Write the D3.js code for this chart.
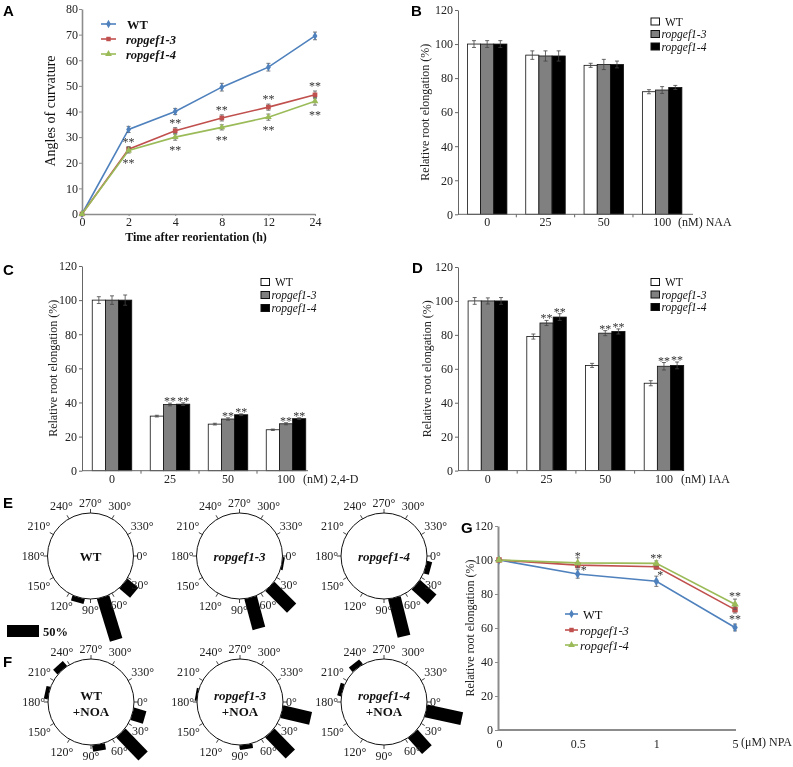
<!DOCTYPE html>
<html><head><meta charset="utf-8">
<script src="https://cdn.jsdelivr.net/npm/d3@7"></script>
<style>body{margin:0;background:#fff} svg{display:block} svg text{filter:grayscale(1)}</style>
</head><body>
<svg id="c" width="793" height="767"></svg>
<script>
const SERIF = "'Liberation Serif','Times New Roman',serif";
const SANS = "'Liberation Sans',Arial,sans-serif";

// ---------- DATA ----------
// Panel A
const timeLabels = ["0","2","4","8","12","24"];
const curvWT = [0,33,40,49.5,57.3,69.5];
const curvR3 = [0,25.3,32.5,37.5,41.7,46.5];
const curvR4 = [0,24.8,30,33.8,37.8,44];
const curvErrWT = [0.4,1.2,1.2,1.5,1.5,1.5];
const curvErrR3 = [0.4,1,1.2,1.2,1.2,1.5];
const curvErrR4 = [0.4,1,1.2,1,1.2,1.5];
const curvTicks = [0,10,20,30,40,50,60,70,80];
const seriesNames = ["WT","ropgef1-3","ropgef1-4"];

// Panel B (NAA)
const doseLabels = ["0","25","50","100"];
const naaWT = [100,93.5,87.5,72];
const naaR3 = [100,93,88,73];
const naaR4 = [100,93,88,74.5];
const naaErrWT = [2,2.5,1.2,1.2];
const naaErrR3 = [2,3,3,2];
const naaErrR4 = [2,3,2,1.2];

// Panel C (2,4-D)
const dWT = [100,32,27.3,24];
const dR3 = [100,38.8,30.3,27.5];
const dR4 = [100,39,32.8,30.5];
const dErrWT = [2,0.5,0.5,0.4];
const dErrR3 = [2.5,0.8,0.7,0.6];
const dErrR4 = [3,0.8,0.5,0.5];

// Panel D (IAA)
const iaaWT = [100,79,62,51.5];
const iaaR3 = [100,87,81,61.5];
const iaaR4 = [100,90.5,82,62];
const iaaErrWT = [2,1.5,1.2,1.5];
const iaaErrR3 = [1.8,1.5,1.5,2.2];
const iaaErrR4 = [2,2,1.5,2];

const barTicks = [0,20,40,60,80,100,120];

// Panel G (NPA)
const npaLabels = ["0","0.5","1","5"];
const npaWT = [100,91.8,87.5,60.3];
const npaR3 = [100,97,96,70.8];
const npaR4 = [100,98.3,98,74];
const npaErrWT = [0.8,2.5,3,2];
const npaErrR3 = [0.8,1.5,1.5,2];
const npaErrR4 = [0.8,3,1.5,3];

// Panels E/F: rose histograms {deg, pct}
const roseE_WT = [{deg:40,pct:22},{deg:73,pct:70},{deg:106,pct:8}];
const roseE_R3 = [{deg:10,pct:3},{deg:45,pct:48},{deg:75,pct:50}];
const roseE_R4 = [{deg:15,pct:8},{deg:42,pct:34},{deg:76,pct:62}];
const roseF_WT = [{deg:228,pct:10},{deg:192,pct:6},{deg:16,pct:20},{deg:46,pct:50},{deg:80,pct:10}];
const roseF_R3 = [{deg:190,pct:3},{deg:13,pct:46},{deg:46,pct:46},{deg:82,pct:7}];
const roseF_R4 = [{deg:232,pct:9},{deg:196,pct:6},{deg:12,pct:57},{deg:48,pct:33}];
const roseTickDeg = [0,30,60,90,120,150,180,210,240,270,300,330];

// ---------- DRAW ----------
const svg = d3.select("#c");
const COL = {WT:"#4f81bd", R3:"#c0504d", R4:"#9bbb59"};

function styleAxis(sel, color, width, fs){
  sel.select(".domain").attr("stroke",color).attr("stroke-width",width);
  sel.selectAll(".tick line").attr("stroke",color).attr("stroke-width",1);
  sel.selectAll(".tick text").attr("font-family",SERIF).attr("font-size",fs).attr("fill","#222");
}
function text(g,x,y,s,o={}){
  const t = g.append("text").attr("x",x).attr("y",y).text(s)
    .attr("font-family",o.ff||SERIF).attr("font-size",o.fs||12).attr("fill",o.fill||"#111")
    .attr("text-anchor",o.anchor||"start");
  if(o.bold) t.attr("font-weight","bold");
  if(o.italic) t.attr("font-style","italic");
  if(o.rotate) t.attr("transform",`rotate(${o.rotate},${x},${y})`);
  return t;
}
function errBar(g,x,y0,y1,cap,color){
  g.append("line").attr("x1",x).attr("x2",x).attr("y1",y0).attr("y2",y1).attr("stroke",color).attr("stroke-width",0.8);
  g.append("line").attr("x1",x-cap).attr("x2",x+cap).attr("y1",y0).attr("y2",y0).attr("stroke",color).attr("stroke-width",0.8);
  g.append("line").attr("x1",x-cap).attr("x2",x+cap).attr("y1",y1).attr("y2",y1).attr("stroke",color).attr("stroke-width",0.8);
}
const symType = [d3.symbolDiamond, d3.symbolSquare, d3.symbolTriangle];

// panel labels
[["A",3,16],["B",411,16],["C",3,275],["D",412,273],["E",3,508],["F",3,667],["G",461,533]].forEach(([s,x,y])=>
  text(svg,x,y,s,{ff:SANS,fs:15,bold:true,fill:"#000"}));

// ---------- Panel A ----------
(function(){
  const g = svg.append("g");
  const x = d3.scalePoint().domain(timeLabels).range([82,315]);
  const y = d3.scaleLinear().domain([0,80]).range([214,9]);
  g.append("g").attr("transform","translate(82,0)")
    .call(d3.axisLeft(y).tickValues(curvTicks).tickSize(3).tickSizeOuter(0).tickPadding(1))
    .call(styleAxis,"#8c8c8c",1.6,12);
  g.append("g").attr("transform","translate(0,214)")
    .call(d3.axisBottom(x).tickSize(2).tickSizeOuter(0).tickPadding(1))
    .call(styleAxis,"#8c8c8c",1.6,12);
  text(g,196,241,"Time after reorientation (h)",{fs:12,bold:true,anchor:"middle"});
  text(g,55,111,"Angles of curvature",{fs:14,anchor:"middle",rotate:-90});
  const data = [[curvWT,curvErrWT,COL.WT],[curvR3,curvErrR3,COL.R3],[curvR4,curvErrR4,COL.R4]];
  const line = d3.line().x((d,i)=>x(timeLabels[i])).y(d=>y(d));
  data.forEach(([vals,errs,c],k)=>{
    g.append("path").attr("d",line(vals)).attr("fill","none").attr("stroke",c).attr("stroke-width",1.6);
    vals.forEach((v,i)=>{
      errBar(g,x(timeLabels[i]),y(v-errs[i]),y(v+errs[i]),2,"#555");
      g.append("path").attr("d",d3.symbol(symType[k], k===1?22:20)())
        .attr("transform",`translate(${x(timeLabels[i])},${y(v)})`).attr("fill",c);
    });
  });
  // significance
  timeLabels.forEach((t,i)=>{
    if(i===0) return;
    text(g,x(t),y(curvR3[i]+curvErrR3[i])-1,"**",{fs:12,anchor:"middle",fill:"#333"});
    text(g,x(t),y(curvR4[i]-curvErrR4[i])+14,"**",{fs:12,anchor:"middle",fill:"#333"});
  });
  // legend
  const ly = [24,39,54];
  data.forEach(([v,e,c],k)=>{
    g.append("line").attr("x1",101).attr("x2",116).attr("y1",ly[k]).attr("y2",ly[k]).attr("stroke",c).attr("stroke-width",1.6);
    g.append("path").attr("d",d3.symbol(symType[k],20)()).attr("transform",`translate(108.5,${ly[k]})`).attr("fill",c);
    text(g,k===0?127:126,ly[k]+4.5,seriesNames[k],{fs:12.5,bold:true,italic:k>0});
  });
})();

// ---------- Bar panels ----------
function barPanel(cfg){
  const g = svg.append("g");
  const y = d3.scaleLinear().domain([0,120]).range([cfg.yBot,cfg.yTop]);
  const x0 = d3.scaleBand().domain(doseLabels).range([cfg.bandStart,cfg.bandEnd]);
  const x1 = d3.scaleBand().domain([0,1,2]).range([0,39.5]);
  const off = (x0.bandwidth()-39.5)/2;
  const fills = ["#ffffff","#808080","#000000"];
  cfg.series.forEach((vals,k)=>{
    vals.forEach((v,i)=>{
      const bx = x0(doseLabels[i])+off+x1(k);
      g.append("rect").attr("x",bx).attr("y",y(v)).attr("width",x1.bandwidth()).attr("height",y(0)-y(v))
        .attr("fill",fills[k]).attr("stroke","#111").attr("stroke-width",0.8);
      const cx = bx+x1.bandwidth()/2, e = cfg.errs[k][i];
      errBar(g,cx,y(v-e),y(v+e),2,"#444");
      if(cfg.stars && k>0 && i>0){
        text(g,cx,y(v+e)+2,"**",{fs:12,anchor:"middle",fill:"#333"});
      }
    });
  });
  // axes
  g.append("g").attr("transform",`translate(${cfg.axisX},0)`)
    .call(d3.axisLeft(y).tickValues(barTicks).tickSize(3).tickSizeOuter(0).tickPadding(2))
    .call(styleAxis,"#666",1,12);
  g.append("line").attr("x1",cfg.axisX).attr("x2",cfg.axisEnd).attr("y1",y(0)).attr("y2",y(0)).attr("stroke","#666").attr("stroke-width",1);
  doseLabels.forEach((d,i)=>{
    const xb = x0(d);
    if(i>0) g.append("line").attr("x1",xb).attr("x2",xb).attr("y1",y(0)).attr("y2",y(0)+3).attr("stroke","#666");
    text(g,xb+x0.bandwidth()/2,y(0)+12,d,{fs:12,anchor:"middle",fill:"#222"});
  });
  text(g,cfg.unitX,y(0)+12,cfg.unit,{fs:12,fill:"#222"});
  text(g,cfg.ylabX,(cfg.yBot+cfg.yTop)/2,"Relative root elongation (%)",{fs:12,anchor:"middle",rotate:-90,fill:"#222"});
  // legend
  cfg.legY.forEach((ly,k)=>{
    g.append("rect").attr("x",cfg.legX).attr("y",ly-3.5).attr("width",8.5).attr("height",7)
      .attr("fill",fills[k]).attr("stroke","#111").attr("stroke-width",1);
    text(g,k===0?cfg.legX+14:cfg.legX+10.5,ly+4,seriesNames[k],{fs:11.5,italic:k>0,fill:"#111"});
  });
}
barPanel({series:[naaWT,naaR3,naaR4],errs:[naaErrWT,naaErrR3,naaErrR4],yTop:10,yBot:214.3,
  axisX:458,axisEnd:693,bandStart:458,bandEnd:691.3,unit:"(nM) NAA",unitX:678,ylabX:429,
  legX:651,legY:[21.5,34,46.5],stars:false});
barPanel({series:[dWT,dR3,dR4],errs:[dErrWT,dErrR3,dErrR4],yTop:266,yBot:470.7,
  axisX:82,axisEnd:308,bandStart:83,bandEnd:315,unit:"(nM) 2,4-D",unitX:303,ylabX:57,
  legX:261,legY:[282,295,308],stars:true});
barPanel({series:[iaaWT,iaaR3,iaaR4],errs:[iaaErrWT,iaaErrR3,iaaErrR4],yTop:267,yBot:470.6,
  axisX:458,axisEnd:682,bandStart:458.5,bandEnd:693.3,unit:"(nM) IAA",unitX:681,ylabX:431,
  legX:651,legY:[282,294.5,307],stars:true});

// ---------- Panel G ----------
(function(){
  const g = svg.append("g");
  const x = d3.scalePoint().domain(npaLabels).range([499,735]);
  const y = d3.scaleLinear().domain([0,120]).range([730,526]);
  g.append("g").attr("transform","translate(498,0)")
    .call(d3.axisLeft(y).tickValues(barTicks).tickSize(3).tickSizeOuter(0).tickPadding(2))
    .call(styleAxis,"#8c8c8c",2,12);
  const xa = g.append("g").attr("transform","translate(0,730)")
    .call(d3.axisBottom(x).tickSize(0).tickSizeOuter(0).tickPadding(9))
    .call(styleAxis,"#8c8c8c",2,12);
  xa.select(".domain").attr("d","M498,0H736");
  text(g,741,746,"(μM) NPA",{fs:12,fill:"#222"});
  text(g,474,628,"Relative root elongation (%)",{fs:12,anchor:"middle",rotate:-90,fill:"#222"});
  const data = [[npaWT,npaErrWT,COL.WT],[npaR3,npaErrR3,COL.R3],[npaR4,npaErrR4,COL.R4]];
  const line = d3.line().x((d,i)=>x(npaLabels[i])).y(d=>y(d));
  data.forEach(([vals,errs,c],k)=>{
    g.append("path").attr("d",line(vals)).attr("fill","none").attr("stroke",c).attr("stroke-width",1.6);
  });
  data.forEach(([vals,errs,c],k)=>{
    vals.forEach((v,i)=>{
      errBar(g,x(npaLabels[i]),y(v-errs[i]),y(v+errs[i]),2,"#555");
      g.append("path").attr("d",d3.symbol(symType[k],k===1?30:26)())
        .attr("transform",`translate(${x(npaLabels[i])},${y(v)})`).attr("fill",c);
    });
  });
  // significance
  text(g,x("0.5"),y(npaR4[1]+npaErrR4[1])+2,"*",{fs:12,anchor:"middle",fill:"#333"});
  text(g,x("0.5")+6,y(npaWT[1]+npaErrWT[1])+4,"*",{fs:12,anchor:"middle",fill:"#333"});
  text(g,x("1"),y(npaR4[2]+npaErrR4[2])+1,"**",{fs:12,anchor:"middle",fill:"#333"});
  text(g,x("1")+4,y(npaWT[2]+npaErrWT[2])+3,"*",{fs:12,anchor:"middle",fill:"#333"});
  text(g,x("5"),y(npaR4[3]+npaErrR4[3])+1,"**",{fs:12,anchor:"middle",fill:"#333"});
  text(g,x("5"),y(npaWT[3]+npaErrWT[3])-1,"**",{fs:12,anchor:"middle",fill:"#333"});
  // legend
  const ly = [614,630,645];
  data.forEach(([v,e,c],k)=>{
    g.append("line").attr("x1",565).attr("x2",578).attr("y1",ly[k]).attr("y2",ly[k]).attr("stroke",c).attr("stroke-width",1.6);
    g.append("path").attr("d",d3.symbol(symType[k],20)()).attr("transform",`translate(571.5,${ly[k]})`).attr("fill",c);
    text(g,k===0?583:580,ly[k]+4.5,seriesNames[k],{fs:12.5,italic:k>0,fill:"#111"});
  });
})();

// ---------- Panels E/F (rose) ----------
const rLen = d3.scaleLinear().domain([0,50]).range([0,32]);
function rose(cx,cy,data,lines){
  const R = 43;
  const g = svg.append("g").attr("transform",`translate(${cx},${cy})`);
  g.selectAll("rect.bar").data(data).enter().append("rect")
    .attr("x",R).attr("y",-6.5).attr("width",d=>rLen(d.pct)).attr("height",13)
    .attr("transform",d=>`rotate(${d.deg})`).attr("fill","#000");
  g.append("circle").attr("r",R).attr("fill","#fff").attr("stroke","#111").attr("stroke-width",1);
  roseTickDeg.forEach(a=>{
    const t = a*Math.PI/180, c = Math.cos(t), s = Math.sin(t);
    g.append("line").attr("x1",R*c).attr("y1",R*s).attr("x2",(R+4)*c).attr("y2",(R+4)*s).attr("stroke","#111").attr("stroke-width",0.8);
    const lab = g.append("text").text(a+"°").attr("font-family",SERIF).attr("font-size",12).attr("fill","#222")
      .attr("text-anchor","middle").attr("dominant-baseline","central");
    const w = lab.node().getComputedTextLength();
    const d = R + 3 + Math.abs(c)*w/2 + Math.abs(s)*7.5;
    lab.attr("x",d*c).attr("y",d*s);
  });
  lines.forEach((l,i)=>{
    const yy = lines.length===1 ? 4.5 : (i===0 ? -2 : 14);
    text(g,0,yy,l.t,{fs:13,bold:true,italic:!!l.it,anchor:"middle",fill:"#111"});
  });
}
rose(90.5,556,roseE_WT,[{t:"WT"}]);
rose(239.5,556,roseE_R3,[{t:"ropgef1-3",it:true}]);
rose(384,556,roseE_R4,[{t:"ropgef1-4",it:true}]);
rose(91,702,roseF_WT,[{t:"WT"},{t:"+NOA"}]);
rose(240,702,roseF_R3,[{t:"ropgef1-3",it:true},{t:"+NOA"}]);
rose(384,702,roseF_R4,[{t:"ropgef1-4",it:true},{t:"+NOA"}]);
// 50% scale bar
svg.append("rect").attr("x",7).attr("y",625).attr("width",rLen(50)).attr("height",12).attr("fill","#000");
text(svg,43,636,"50%",{fs:12.5,bold:true,fill:"#111"});
</script>
</body></html>
